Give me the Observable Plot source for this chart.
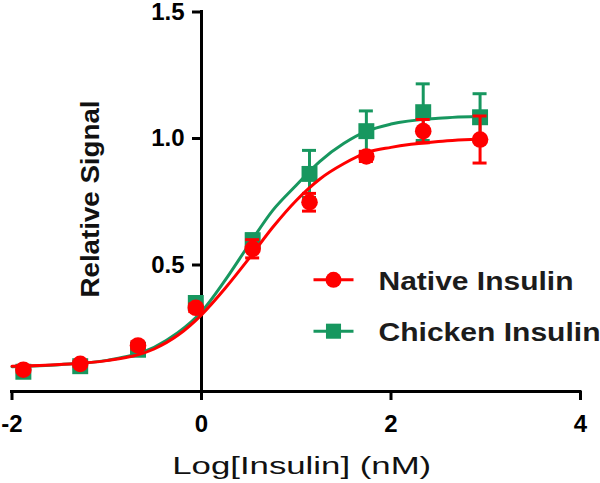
<!DOCTYPE html>
<html>
<head>
<meta charset="utf-8">
<script src="https://cdn.jsdelivr.net/npm/d3@7"></script>
<script src="https://cdn.jsdelivr.net/npm/@observablehq/plot@0.6"></script>
<style>
  html, body { margin: 0; padding: 0; background: #fff; overflow: hidden; }
</style>
</head>
<body>
<div id="chart"></div>
<script>
// ---- data ----
const seriesNames = ["Native Insulin", "Chicken Insulin"];
const seriesColors = ["#ff0000", "#17975f"];
const seriesSymbols = ["circle", "square"];

const logDose = [-1.88, -1.28, -0.67, -0.06, 0.54, 1.14, 1.74, 2.34, 2.94];
const nativeMean = [0.086, 0.109, 0.182, 0.331, 0.564, 0.748, 0.929, 1.029, 0.996];
const nativeErr = [0.01, 0.01, 0.015, 0.015, 0.036, 0.035, 0.02, 0.046, 0.093];
const chickenMean = [0.078, 0.100, 0.165, 0.350, 0.598, 0.860, 1.029, 1.104, 1.084];
const chickenErr = [0.01, 0.01, 0.01, 0.02, 0.025, 0.093, 0.08, 0.112, 0.093];

const fitX = [-2, -1.5, -1, -0.5, -0.25, 0, 0.25, 0.5, 0.75, 1, 1.25, 1.5, 1.75, 2, 2.5, 3];
const nativeFit = [0.100, 0.107, 0.122, 0.168, 0.222, 0.303, 0.408, 0.525, 0.648, 0.755, 0.84, 0.90, 0.945, 0.965, 0.988, 0.999];
const chickenFit = [0.098, 0.106, 0.123, 0.175, 0.232, 0.315, 0.44, 0.58, 0.715, 0.815, 0.91, 0.98, 1.03, 1.057, 1.08, 1.088];

const xTicks = [-2, 0, 2, 4];
const yTicks = [0.5, 1.0, 1.5];
const xLabel = "Log[Insulin] (nM)";
const yLabel = "Relative Signal";

// ---- tables built from the arrays ----
const means = [nativeMean, chickenMean];
const errs = [nativeErr, chickenErr];
const fits = [nativeFit, chickenFit];
const points = [];
const curves = [];
// chicken first so native sits on top (as in reference)
[1, 0].forEach(s => {
  logDose.forEach((x, i) => points.push({s, x, y: means[s][i], e: errs[s][i]}));
  fitX.forEach((x, i) => curves.push({s, x, y: fits[s][i]}));
});

const font = "'Liberation Sans', Arial, Helvetica, sans-serif";
const lineSym = { draw(ctx) { ctx.moveTo(-20, 0); ctx.lineTo(20, 0); } };

const marks = [];
// axes
marks.push(Plot.ruleY([0], {x1: xTicks[0], x2: xTicks[xTicks.length - 1], stroke: "#000", strokeWidth: 3, strokeLinecap: "square"}));
marks.push(Plot.ruleX([0], {y1: 0, y2: yTicks[yTicks.length - 1], stroke: "#000", strokeWidth: 3, strokeLinecap: "square"}));
marks.push(Plot.axisX(xTicks, {tickSize: 9, tickPadding: 14, strokeWidth: 3, fontSize: 24, fontWeight: "bold", fill: "#000", tickFormat: d => String(d), label: null}));
marks.push(Plot.ruleY(yTicks, {x1: 0, x2: 0, insetLeft: -9, stroke: "#000", strokeWidth: 3}));
marks.push(Plot.text(yTicks, {x: 0, y: d => d, text: d => d.toFixed(1), textAnchor: "end", dx: -17, fontSize: 24, fontWeight: "bold", fill: "#000"}));

// series
[1, 0].forEach(s => {
  const col = seriesColors[s];
  const P = points.filter(d => d.s === s);
  const C = curves.filter(d => d.s === s);
  marks.push(Plot.line(C, {x: "x", y: "y", stroke: col, strokeWidth: 3, curve: "monotone-x"}));
  marks.push(Plot.ruleX(P, {x: "x", y1: d => d.y - d.e, y2: d => d.y + d.e, stroke: col, strokeWidth: 3}));
  marks.push(Plot.ruleY(P, {y: d => d.y + d.e, x1: "x", x2: "x", insetLeft: -7, insetRight: -7, stroke: col, strokeWidth: 3}));
  marks.push(Plot.ruleY(P, {y: d => d.y - d.e, x1: "x", x2: "x", insetLeft: -7, insetRight: -7, stroke: col, strokeWidth: 3}));
  marks.push(Plot.dot(P, {x: "x", y: "y", fill: col, stroke: "none", symbol: seriesSymbols[s], r: s === 0 ? 8.3 : 9}));
});

// legend
seriesNames.forEach((name, i) => {
  const col = seriesColors[i];
  const rowDy = 267.8 + i * 51.4;
  marks.push(Plot.dot([name], {frameAnchor: "top-left", dx: 321.5, dy: rowDy, symbol: lineSym, stroke: col, strokeWidth: 3, fill: "none"}));
  marks.push(Plot.dot([name], {frameAnchor: "top-left", dx: 321.5, dy: rowDy, symbol: seriesSymbols[i], r: i === 0 ? 8 : 8.5, fill: col, stroke: "none"}));
  marks.push(Plot.text([name], {frameAnchor: "top-left", dx: 366.5, dy: rowDy + 10, text: d => d, textAnchor: "start", lineAnchor: "bottom", fontSize: 26, fontWeight: "bold", fill: "#1c1c1c"}));
});

// axis titles (start-anchored so the stretched length stays in place)
marks.push(Plot.text([xLabel], {frameAnchor: "bottom-left", dx: 160.2, dy: 82.3, text: d => d, textAnchor: "start", lineAnchor: "bottom", fontSize: 23, fontWeight: "normal", fill: "#111"}));
marks.push(Plot.text([yLabel], {frameAnchor: "left", dx: 78.5, dy: 95.75, rotate: -90, text: d => d, textAnchor: "start", lineAnchor: "middle", fontSize: 25, fontWeight: "bold", fill: "#111"}));

const chart = Plot.plot({
  width: 600,
  height: 483,
  marginTop: 11.5,
  marginBottom: 92,
  marginLeft: 11.5,
  marginRight: 20,
  x: {domain: [-2, 4]},
  y: {domain: [0, 1.5], axis: null},
  style: {fontFamily: font, background: "#fff", overflow: "hidden"},
  marks
});

// stretch texts to the reference widths
const stretch = new Map([["Native Insulin", 195], ["Chicken Insulin", 222], [yLabel, 197], [xLabel, 259]]);
d3.select(chart).selectAll("text").each(function () {
  const w = stretch.get(this.textContent);
  if (w) { this.setAttribute("textLength", w); this.setAttribute("lengthAdjust", "spacingAndGlyphs"); }
});

document.getElementById("chart").appendChild(chart);
</script>
</body>
</html>
